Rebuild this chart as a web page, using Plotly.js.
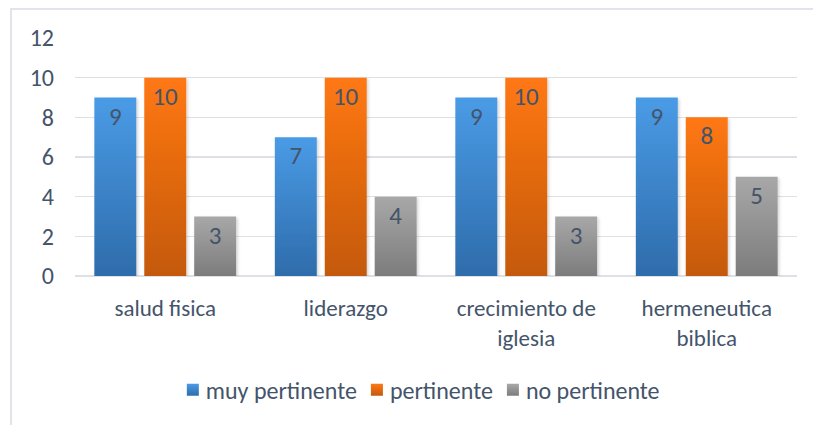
<!DOCTYPE html>
<html>
<head>
<meta charset="utf-8">
<script src="https://cdn.plot.ly/plotly-3.0.1.min.js"></script>
<style>
  html, body { margin: 0; padding: 0; background: #ffffff; }
  #wrap { position: relative; width: 813px; height: 425px; overflow: hidden; }
  #frame { position: absolute; left: 10px; top: 8px; width: 820px; height: 440px;
           border: 2px solid #E1E5EB; box-sizing: border-box; pointer-events: none; }
  #chart { position: absolute; left: 0; top: 0; width: 813px; height: 425px; }
</style>
</head>
<body>
<div id="wrap">
  <div id="chart"></div>
  <div id="frame"></div>
</div>
<script>
const categories = ["salud fisica", "liderazgo", "crecimiento de<br>iglesia", "hermeneutica<br>biblica"];
const muyPertinente = [9, 7, 9, 9];
const pertinente = [10, 10, 10, 8];
const noPertinente = [3, 4, 3, 5];
const seriesNames = ["muy pertinente", "pertinente", "no pertinente"];
const yTicks = [0, 2, 4, 6, 8, 10, 12];

const gradients = [
  ["#4A9BE6", "#2E6CAB"],
  ["#FF7812", "#C4590F"],
  ["#A8A8A8", "#7C7C7C"]
];
const baseColors = ["#3B84CC", "#E4690F", "#939393"];

const FONT = "Carlito, Calibri, Lato, sans-serif";
const TXT = "#44546A";
const FS = 23;

const seriesData = [muyPertinente, pertinente, noPertinente];
const traces = seriesData.map((vals, i) => ({
  type: "bar",
  name: seriesNames[i],
  x: categories,
  y: vals,
  text: vals.map(String),
  textposition: "inside",
  insidetextanchor: "end",
  textfont: { family: FONT, size: 25, color: TXT },
  marker: { color: baseColors[i], line: { width: 0 } },
  hoverinfo: "skip"
}));

const layout = {
  width: 813,
  height: 425,
  margin: { l: 75, r: 16, t: 38, b: 149 },
  paper_bgcolor: "rgba(0,0,0,0)",
  plot_bgcolor: "rgba(0,0,0,0)",
  barmode: "group",
  bargap: 0.17,
  bargroupgap: 0.16,
  font: { family: FONT, color: TXT, size: FS },
  xaxis: {
    type: "category",
    showgrid: false,
    showline: false,
    ticks: "",
    ticklabelstandoff: 16,
    tickfont: { family: FONT, size: FS, color: TXT }
  },
  yaxis: {
    range: [0, 12],
    tickvals: yTicks,
    ticktext: yTicks.map(String),
    showgrid: true,
    gridcolor: "#DDE1E6",
    gridwidth: 1.5,
    zeroline: true,
    zerolinecolor: "#DDE1E6",
    zerolinewidth: 1.5,
    showline: false,
    ticks: "",
    ticklabelstandoff: 20,
    tickfont: { family: FONT, size: 24, color: TXT }
  },
  legend: {
    orientation: "h",
    x: 0.488,
    xanchor: "center",
    y: -0.48,
    yanchor: "middle",
    font: { family: FONT, size: 24, color: TXT },
    itemwidth: 30,
    traceorder: "normal"
  },
  showlegend: true
};

Plotly.newPlot("chart", traces, layout, { staticPlot: true, displayModeBar: false }).then(gd => {
  const svg = gd.querySelector("svg.main-svg");
  const NS = "http://www.w3.org/2000/svg";
  let defs = svg.querySelector("defs");
  if (!defs) { defs = document.createElementNS(NS, "defs"); svg.insertBefore(defs, svg.firstChild); }
  gradients.forEach((g, i) => {
    const lg = document.createElementNS(NS, "linearGradient");
    lg.setAttribute("id", "bargrad" + i);
    lg.setAttribute("x1", "0"); lg.setAttribute("y1", "0");
    lg.setAttribute("x2", "0"); lg.setAttribute("y2", "1");
    [[0, g[0]], [1, g[1]]].forEach(([o, c]) => {
      const st = document.createElementNS(NS, "stop");
      st.setAttribute("offset", o);
      st.setAttribute("stop-color", c);
      lg.appendChild(st);
    });
    defs.appendChild(lg);
  });
  const filt = document.createElementNS(NS, "filter");
  filt.setAttribute("id", "barshadow");
  filt.setAttribute("x", "-20%"); filt.setAttribute("y", "-20%");
  filt.setAttribute("width", "140%"); filt.setAttribute("height", "140%");
  const ds = document.createElementNS(NS, "feDropShadow");
  ds.setAttribute("dx", "1.5"); ds.setAttribute("dy", "1.5");
  ds.setAttribute("stdDeviation", "1.5");
  ds.setAttribute("flood-color", "#000"); ds.setAttribute("flood-opacity", "0.18");
  filt.appendChild(ds);
  defs.appendChild(filt);

  gd.querySelectorAll(".barlayer .trace").forEach((tr, i) => {
    tr.querySelectorAll(".point path").forEach(p => {
      p.style.fill = "url(#bargrad" + i + ")";
      p.setAttribute("filter", "url(#barshadow)");
    });
  });
  gd.querySelectorAll(".legend .traces").forEach((tr, i) => {
    tr.querySelectorAll(".legendpoints path").forEach(p => {
      p.style.fill = "url(#bargrad" + i + ")";
    });
    const lp = tr.querySelector(".legendpoints");
    if (lp) lp.setAttribute("transform", "translate(7,0)");
    const t = tr.getAttribute("transform") || "";
    const m = t.match(/translate\(\s*([-\d.]+)[ ,]+([-\d.]+)\s*\)/);
    if (m) {
      tr.setAttribute("transform", "translate(" + (parseFloat(m[1]) - 12 * i) + "," + m[2] + ")");
    }
  });
});
</script>
</body>
</html>
